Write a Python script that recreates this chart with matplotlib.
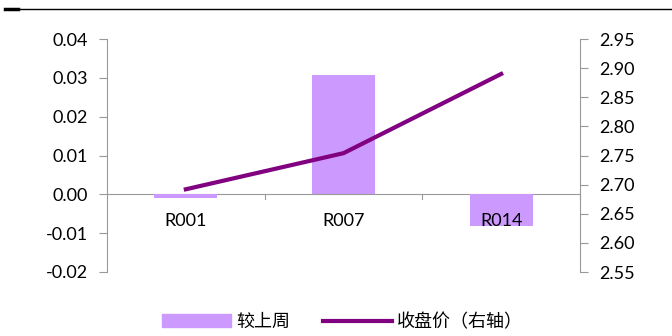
import matplotlib
matplotlib.use("Agg")
import matplotlib.pyplot as plt
from matplotlib.lines import Line2D
import numpy as np

categories = ["R001", "R007", "R014"]
change = [-0.001, 0.0308, -0.0082]
close_price = [2.692, 2.754, 2.890]

plt.rcParams['font.family'] = ['Lato', 'Noto Sans CJK SC', 'DejaVu Sans']

fig = plt.figure(figsize=(6.72, 3.36), dpi=100)
ax = fig.add_axes([107/672, 1-272/336, (580-107)/672, (272-39)/336])
x = np.arange(len(categories))
ax.bar(x, change, width=0.4, color='#cc99ff', zorder=2)
ax.set_xlim(-0.5, 2.5)
ax.set_ylim(-0.02, 0.04)
ax.set_yticks(np.arange(-0.02, 0.0401, 0.01))
ax.set_yticklabels([f"{v:.2f}" for v in np.arange(-0.02, 0.0401, 0.01)])
ax.axhline(0, color='#999999', lw=0.8, zorder=1)
for s in ['top', 'bottom']:
    ax.spines[s].set_visible(False)
ax.spines['left'].set_color('#999999')
ax.spines['right'].set_visible(False)
ax.tick_params(axis='y', length=6, color='#999999', labelsize=13, pad=8)
ax.set_xticks([])
for xv in [0.5, 1.5, 2.5]:
    ax.plot([xv, xv], [0, -0.0012], color='#999999', lw=0.8, clip_on=False)
for i, c in enumerate(categories):
    ax.text(i, -0.0069, c, ha='center', va='center', fontsize=13, zorder=5)

ax2 = ax.twinx()
ax2.plot(x, close_price, color='#800080', lw=3, zorder=3)
ax2.set_ylim(2.55, 2.95)
ax2.set_yticks(np.arange(2.55, 2.951, 0.05))
ax2.set_yticklabels([f"{v:.2f}" for v in np.arange(2.55, 2.951, 0.05)])
for s in ['top', 'bottom', 'left']:
    ax2.spines[s].set_visible(False)
ax2.spines['right'].set_color('#999999')
ax2.tick_params(axis='y', length=6, color='#999999', labelsize=13, pad=8)

fig.add_artist(Line2D([5/672, 1], [1-9/336, 1-9/336], color='black', lw=1))
fig.add_artist(Line2D([5/672, 18/672], [1-9/336, 1-9/336], color='black', lw=2.5))

handles = [plt.Rectangle((0, 0), 1, 1, color='#cc99ff'),
           Line2D([0], [0], color='#800080', lw=3)]
fig.legend(handles, ['较上周', '收盘价（右轴）'], loc='center', bbox_to_anchor=(0.51, 1-322/336),
           ncol=2, frameon=False, handlelength=3.8, handletextpad=0.3, columnspacing=1.8,
           prop={'family': ['Noto Sans CJK SC', 'DejaVu Sans'], 'size': 13})

fig.savefig("out.png", dpi=100)
